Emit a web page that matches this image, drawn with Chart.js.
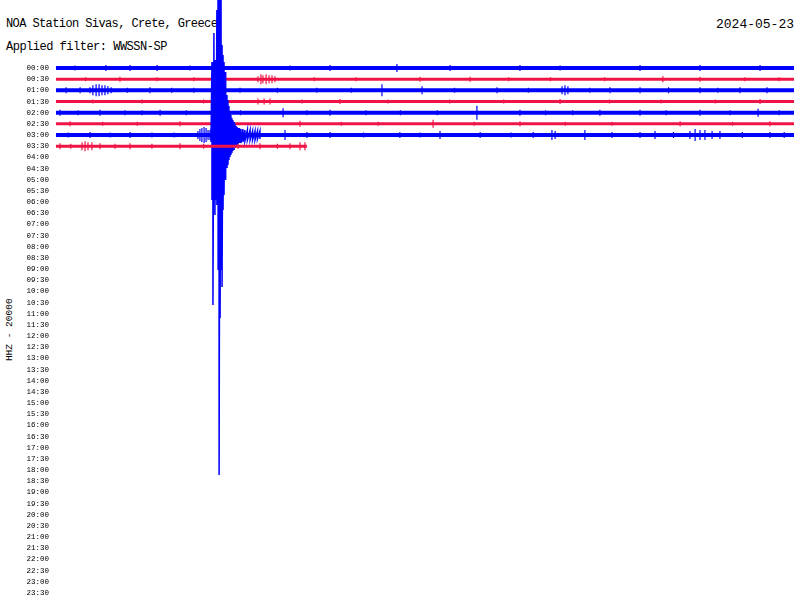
<!DOCTYPE html>
<html>
<head>
<meta charset="utf-8">
<title>NOA Station Sivas helicorder</title>
<script src="https://cdn.jsdelivr.net/npm/chart.js"></script>
<style>
  body { margin: 0; background: #fff; }
  #wrap { position: relative; width: 800px; height: 610px; }
  .txt { position: absolute; font-family: "Liberation Mono", monospace; color: #000; white-space: nowrap; line-height: 1; z-index: 0; }
  #heli { position: absolute; left: 0; top: 0; z-index: 1; }
</style>
</head>
<body>
<div id="wrap">
  <div class="txt" style="left:6px;top:17.5px;font-size:12px;letter-spacing:-0.6px">NOA Station Sivas, Crete, Greece</div>
  <div class="txt" style="left:6px;top:40.5px;font-size:12px;letter-spacing:-0.5px">Applied filter: WWSSN-SP</div>
  <div class="txt" style="right:6px;top:17.5px;font-size:13px">2024-05-23</div>
  <div class="txt" style="left:-30px;top:325px;width:80px;text-align:center;font-size:9.5px;transform:rotate(-90deg)">HHZ - 20000</div>
  <canvas id="heli" width="800" height="610"></canvas>
</div>
<script>
// tick labels, one per half-hour row
const timeLabels = [
  "00:00","00:30","01:00","01:30","02:00","02:30","03:00","03:30",
  "04:00","04:30","05:00","05:30","06:00","06:30","07:00","07:30",
  "08:00","08:30","09:00","09:30","10:00","10:30","11:00","11:30",
  "12:00","12:30","13:00","13:30","14:00","14:30","15:00","15:30",
  "16:00","16:30","17:00","17:30","18:00","18:30","19:00","19:30",
  "20:00","20:30","21:00","21:30","22:00","22:30","23:00","23:30"
];

// minutes of record in each row that has data
const rowEnds = [30, 30, 30, 30, 30, 30, 30, 10.2];

// visible spikes per row: [minute, amplitude]
const spikes0 = [[0.77,2.5],[1.4,2],[2.03,3],[2.5,2],[3.01,3],[3.6,2],[4.11,3],[5.45,2.5],[6.9,2],[8.0,2],[9.51,2.5],[10.3,2],[11.14,3],[12.4,2],[13.86,4],[15.0,2],[16.02,3],[17.5,2],[18.86,3],[19.7,2],[20.49,2.5],[21.6,2],[22.8,2],[23.74,3],[24.9,2],[26.18,3],[27.3,2],[28.62,3],[29.5,2]];
const spikes1 = [[1.2,2],[2.60,2.5],[4.1,2],[5.6,2],[8.21,3],[8.33,5],[8.41,4],[8.54,5],[8.66,4],[8.78,4],[8.90,3],[10.5,2],[12.2,2],[14.80,2.5],[16.83,2.5],[18.4,2],[20.1,2],[22.3,2],[24.67,3],[26.18,2.5],[28.0,2],[29.4,2]];
const spikes2 = [[0.41,3],[0.98,3],[1.38,3],[1.50,5],[1.63,6],[1.75,6],[1.87,5],[1.99,5],[2.11,4],[2.24,3],[2.9,2.5],[3.82,3],[4.7,2.5],[5.6,2.5],[7.48,2.5],[9.0,2.5],[10.6,2.5],[12.0,2.5],[13.25,6],[14.88,4],[16.2,2.5],[17.93,3],[19.2,2.5],[20.57,4],[20.69,5],[20.81,4],[21.7,2.5],[22.52,3],[23.74,3],[24.9,3],[26.18,3],[26.9,2.5],[27.80,3],[28.9,3]];
const spikes3 = [[1.5,2],[3.5,2],[6.0,2],[8.21,3],[8.46,3],[8.70,3],[10.0,2],[11.54,2.5],[13.5,2],[16.0,2],[18.2,2],[20.49,2.5],[22.5,2],[24.6,2],[26.8,2],[28.62,2.5]];
const spikes4 = [[0.16,3],[0.9,2.5],[1.79,3],[2.8,2.5],[3.5,2.5],[4.23,3],[5.3,2.5],[7.5,2.5],[9.23,4.5],[10.2,2.5],[11.14,3],[12.6,2.5],[14.0,2.5],[15.5,2.5],[17.11,7],[18.86,3],[19.9,2.5],[21.0,2.5],[22.11,3],[23.74,3],[24.8,2.5],[26.18,3],[27.4,2.5],[28.54,4],[29.4,2.5]];
const spikes5 = [[0.57,2.5],[1.9,2],[3.3,2],[5.04,2.5],[7.2,2],[9.92,3],[11.6,2],[13.1,2],[15.33,4],[17.0,2],[18.86,2.5],[20.7,2],[22.6,2],[25.37,2.5],[27.5,2],[29.02,2.5]];
const spikes6 = [[0.5,2.5],[1.38,3],[2.2,2.5],[3.01,3],[3.9,2.5],[4.8,2.5],[5.77,4],[5.85,6],[5.93,7],[6.02,8],[6.10,7],[6.18,5],[6.26,5],[9.31,5],[10.2,3],[11.14,3],[12.5,2.5],[13.98,3],[14.8,2.5],[15.61,4],[17.24,3],[18.5,2.5],[19.4,3],[20.16,5],[20.29,4],[21.50,5],[22.6,3],[23.74,3],[24.35,4],[25.1,3],[25.77,4],[25.98,6],[26.18,5],[26.38,5],[26.67,4],[26.99,4],[27.9,3],[29.02,3],[29.6,3]];
const spikes7 = [[0.16,3],[0.6,2.5],[1.06,4],[1.18,5],[1.30,4],[1.46,4],[1.79,3],[2.4,2.5],[3.01,3],[3.9,2.5],[5.04,3],[6.0,2.5],[7.4,2.5],[8.29,3],[9.0,2.5],[9.51,3],[9.92,4],[10.12,4]];
const traceSpikes = [spikes0, spikes1, spikes2, spikes3, spikes4, spikes5, spikes6, spikes7];

// the earthquake in the 03:00 row: minute, upward and downward swing
const quakeRow = 6;
const quakeMinutes = [6.30,6.34,6.38,6.42,6.46,6.50,6.54,6.59,6.63,6.67,6.71,6.75,6.79,6.83,6.87,6.91,6.95,6.99,7.03,7.07,7.11,7.15,7.19,7.24,7.28,7.32,7.36,7.40,7.46,7.52,7.60,7.68,7.78,7.89,7.99,8.09,8.19,8.29];
const quakeUp      = [7,73,73,102,75,75,125,150,150,150,135,90,80,73,63,50,40,35,29,23,20,17,15,13,11,9,8,7,7,6,6,5,5,5,4,4,4,4];
const quakeDown    = [7,65,170,65,80,65,70,135,340,183,135,152,75,60,45,37,33,30,25,22,20,18,16,15,13,12,10,9,8,8,7,6,5,5,5,5,4,4];

const AMP_PER_ROW = 11.17;
const BLUE = "#0000ff";
const RED = "rgb(240,20,70)";

const datasets = [];
rowEnds.forEach((end, r) => {
  const color = r % 2 === 0 ? BLUE : RED;
  const order = 100 - r; // later rows are drawn on top
  datasets.push({
    data: [{x: 0, y: r}, {x: end, y: r}],
    borderColor: color, borderWidth: r % 2 === 0 ? 4 : 3, order
  });
  const pts = [];
  traceSpikes[r].forEach(([m, a]) => {
    pts.push({x: m, y: r - a / AMP_PER_ROW}, {x: m, y: r + a / AMP_PER_ROW}, {x: m, y: null});
  });
  datasets.push({data: pts, borderColor: color, borderWidth: 1.2, order});
  if (r === quakeRow) {
    const q = [];
    quakeMinutes.forEach((m, i) => {
      q.push({x: m, y: r - quakeUp[i] / AMP_PER_ROW}, {x: m, y: r + quakeDown[i] / AMP_PER_ROW});
    });
    datasets.push({data: q, borderColor: color, borderWidth: 1.5, order, clip: false});
  }
});

new Chart(document.getElementById("heli"), {
  type: "line",
  data: { datasets },
  options: {
    responsive: false,
    animation: false,
    devicePixelRatio: 1,
    layout: { padding: { left: 0, right: 6, top: 0, bottom: 0 } },
    elements: {
      point: { radius: 0 },
      line: { tension: 0, fill: false, borderCapStyle: "butt" }
    },
    spanGaps: false,
    plugins: { legend: { display: false }, tooltip: { enabled: false } },
    scales: {
      x: { type: "linear", min: 0, max: 30, display: false },
      y: {
        type: "linear", reverse: true, min: -6.088, max: 48.52,
        afterBuildTicks: s => { s.ticks = timeLabels.map((_, i) => ({ value: i })); },
        afterFit: s => { s.width = 56; s.paddingTop = 0; s.paddingBottom = 0; },
        grid: { display: false, drawTicks: false },
        border: { display: false },
        ticks: {
          autoSkip: false, padding: 7, color: "#000",
          font: { family: "Liberation Mono", size: 7.5 },
          callback: v => timeLabels[v]
        }
      }
    }
  }
});
</script>
</body>
</html>
